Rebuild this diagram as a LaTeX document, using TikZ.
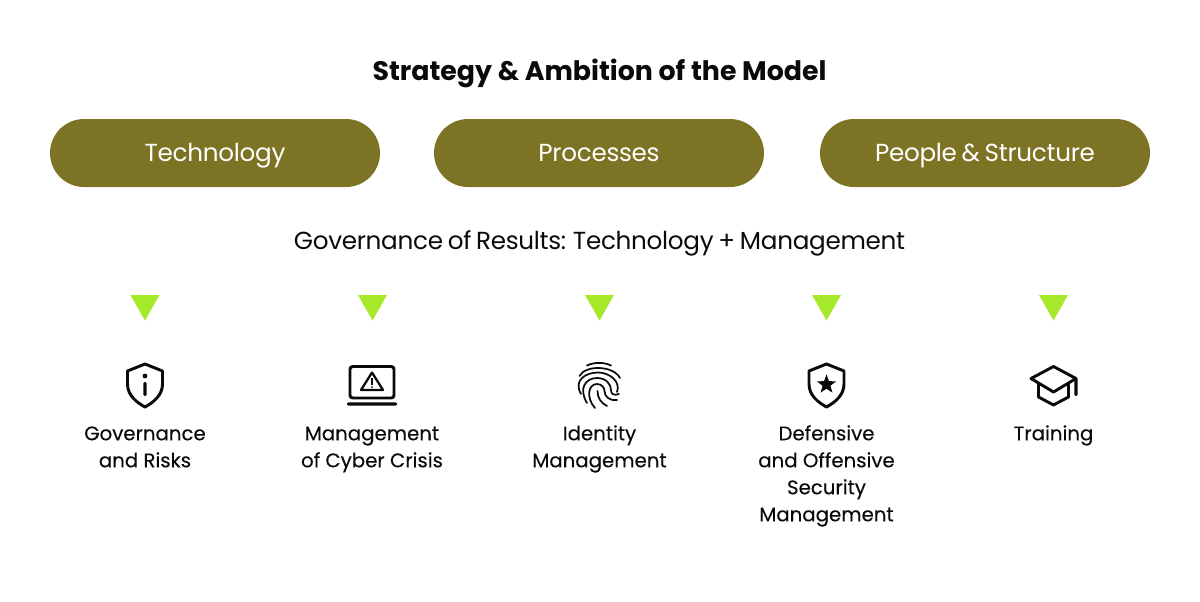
\documentclass[tikz,border=0pt]{standalone}
\usepackage{fontspec}
\setmainfont{Poppins}
\newfontfamily\tightfont[LetterSpace=-1.2,WordSpace=0.75]{Poppins}
\newfontfamily\captionfont[FakeBold=0.25]{Poppins}
\usetikzlibrary{shapes.geometric}
\definecolor{Olive}{HTML}{7D7325}
\definecolor{Lime}{HTML}{A6E92B}
\definecolor{Ink}{HTML}{0A0A0A}
\newcommand{\topline}{\rule{0pt}{15pt}}
\tikzset{
  pill/.style={fill=Olive,rounded corners=25.5pt,minimum width=247.5pt,minimum height=51pt,inner sep=0pt,text=white,text height=15pt,text depth=3pt,font=\tightfont\fontsize{18.5}{24}\selectfont},
  heading/.style={text=Ink,inner sep=0pt,text height=15pt,text depth=3pt,font=\tightfont\fontsize{18.5}{24}\selectfont},
  caption/.style={anchor=north,align=center,text=Ink,inner sep=0pt,font=\captionfont\fontsize{14.8}{20.25}\selectfont},
  icon/.style={draw=Ink,line width=2.2pt,line join=round,line cap=round},
  bar/.style={fill=Ink,rounded corners=1pt},
}
\begin{document}
\begin{tikzpicture}[x=0.75pt,y=-0.75pt]
        \useasboundingbox (0,0) rectangle (1200,601);
        \node[heading,text height=16pt,text depth=2.5pt,font=\fontsize{20.1}{26}\selectfont\bfseries] (title) at (599.5,71) {Strategy \& Ambition of the Model};

        \node[pill] (technology) at (215,153) {Technology};
        \node[pill] (processes) at (599,153) {Processes};
        \node[pill] (people) at (985,153) {People \& Structure};

        \node[heading] (results) at (599.5,241) {Governance of Results: Technology + Management};

        \foreach \x in {145,372.5,599.5,826.5,1053.5}
          \fill[Lime] (\x-14.5,295) -- (\x+14.5,295) -- (\x,320.5) -- cycle;

        % shield with the i
        \draw[icon] (145,364) -- (127.5,371) -- (127.5,384) .. controls (127.5,395) and (136,402) .. (145,407) .. controls (154,402) and (162.5,395) .. (162.5,384) -- (162.5,371) -- cycle;
        \fill[Ink] (145,376) circle (2.4);
        \fill[bar] (143.3,382) rectangle (146.7,396);

        % laptop with the warning sign
        \draw[icon,rounded corners=2pt] (350,398) -- (350,366.5) -- (394,366.5) -- (394,398) -- cycle;
        \fill[bar] (347,402.3) rectangle (397,405.7);
        \draw[icon,line width=1.7pt] (372,372.5) -- (383,390) -- (361,390) -- cycle;
        \fill[Ink] (371,378) rectangle (373,384.5);
        \fill[Ink] (372,387) circle (1);

        % fingerprint
        \begin{scope}[icon,line width=1.3pt]
          \draw (587,365.5) .. controls (594,362) and (604,362) .. (611,365.5);
          \draw (579.5,376) .. controls (585,365) and (613,365) .. (620,378);
          \draw (581,394) .. controls (573,380) and (586,372.5) .. (598,372.5) .. controls (610,372.5) and (621,382) .. (617,392);
          \draw (587,403) .. controls (578,388) and (586,378) .. (597,378) .. controls (606,378) and (611,384) .. (611,390) .. controls (611,394) and (614,396) .. (619,394);
          \draw (595,408) .. controls (586,398) and (588,384) .. (597,384) .. controls (602,384) and (604.5,388) .. (604.5,391) .. controls (604.5,397) and (610,401) .. (617,400);
          \draw (597.5,391) .. controls (597.5,398) and (601,403) .. (607,406);
        \end{scope}

        % shield with the star
        \draw[icon] (826.5,364) -- (809,371) -- (809,384) .. controls (809,395) and (817.5,402) .. (826.5,407) .. controls (835.5,402) and (844,395) .. (844,384) -- (844,371) -- cycle;
        \node[star,star points=5,star point ratio=2.4,fill=Ink,minimum size=15pt,inner sep=0pt] (badge) at (826.5,384.5) {};

        % cap
        \draw[icon] (1053.5,366.5) -- (1076,378.5) -- (1053.5,392) -- (1031,378.5) -- cycle;
        \draw[icon] (1038.5,384) -- (1038.5,397) -- (1053.5,405) -- (1068.5,397) -- (1068.5,384);
        \fill[bar] (1074.3,378) rectangle (1077.7,396);

        \node[caption] (governance) at (145,420) {\topline Governance\\and Risks};
        \node[caption] (crisis) at (372,420) {\topline Management\\of Cyber Crisis};
        \node[caption] (identity) at (599.5,420) {\topline Identity\\Management};
        \node[caption] (defensive) at (826.5,420) {\topline Defensive\\and Offensive\\Security\\Management};
        \node[caption] (training) at (1053.5,420) {\topline Training};
      \end{tikzpicture}
\end{document}
